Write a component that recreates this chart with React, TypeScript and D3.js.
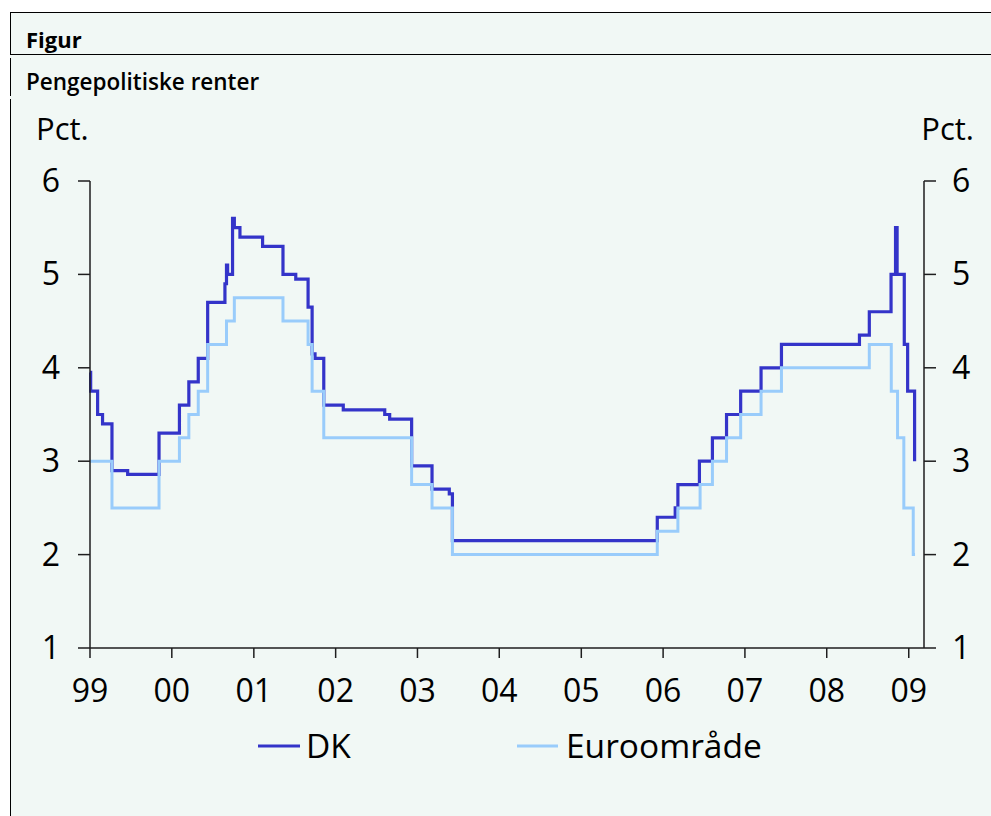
import React from "react";
import * as d3 from "d3";

const dkDates = [
  "1999-01-01", "1999-01-04", "1999-02-04", "1999-02-26", "1999-04-09", "1999-06-18",
  "1999-11-05", "2000-02-04", "2000-03-17", "2000-04-28", "2000-06-09", "2000-08-25",
  "2000-09-01", "2000-09-06", "2000-09-28", "2000-10-06", "2000-10-31", "2001-02-09",
  "2001-05-11", "2001-07-07", "2001-08-31", "2001-09-18", "2001-10-01", "2001-11-09",
  "2002-02-04", "2002-08-08", "2002-08-30", "2002-12-06", "2003-03-07", "2003-05-23",
  "2003-06-06", "2005-12-06", "2006-02-24", "2006-03-08", "2006-06-12", "2006-08-09",
  "2006-10-11", "2006-12-13", "2007-03-14", "2007-06-13", "2008-05-26", "2008-07-09",
  "2008-10-14", "2008-11-03", "2008-11-10", "2008-12-12", "2008-12-27", "2009-01-27",
];
const dkValues = [
  3.95, 3.75, 3.5, 3.4, 2.9, 2.86,
  3.3, 3.6, 3.85, 4.1, 4.7, 4.9,
  5.1, 5.0, 5.6, 5.5, 5.4, 5.3,
  5.0, 4.95, 4.65, 4.15, 4.1, 3.6,
  3.55, 3.5, 3.45, 2.95, 2.7, 2.65,
  2.15, 2.4, 2.5, 2.75, 3.0, 3.25,
  3.5, 3.75, 4.0, 4.25, 4.35, 4.6,
  5.0, 5.5, 5.0, 4.25, 3.75, 3.0,
];

const euroDates = [
  "1999-01-01", "1999-04-09", "1999-11-05", "2000-02-04", "2000-03-17", "2000-04-28",
  "2000-06-09", "2000-09-01", "2000-10-06", "2001-05-11", "2001-08-31", "2001-09-18",
  "2001-11-09", "2002-12-06", "2003-03-07", "2003-06-06", "2005-12-06", "2006-03-08",
  "2006-06-15", "2006-08-09", "2006-10-11", "2006-12-13", "2007-03-14", "2007-06-13",
  "2008-07-09", "2008-10-15", "2008-11-12", "2008-12-10", "2009-01-21", "2009-01-29",
];
const euroValues = [
  3.0, 2.5, 3.0, 3.25, 3.5, 3.75,
  4.25, 4.5, 4.75, 4.5, 4.25, 3.75,
  3.25, 2.75, 2.5, 2.0, 2.25, 2.5,
  2.75, 3.0, 3.25, 3.5, 3.75, 4.0,
  4.25, 3.75, 3.25, 2.5, 2.0, 2.0,
];

const yTicks = [1, 2, 3, 4, 5, 6];
const xTickYears = [1999, 2000, 2001, 2002, 2003, 2004, 2005, 2006, 2007, 2008, 2009];
const xTickLabels = ["99", "00", "01", "02", "03", "04", "05", "06", "07", "08", "09"];
const seriesNames = ["DK", "Euroområde"];

const W = 991;
const H = 816;
const FONT = "'Open Sans', 'Noto Sans', sans-serif";
const DK_COLOR = "#3434c9";
const EURO_COLOR = "#99ccfb";
const AXIS = "#1e1e1e";

export default function App() {
  const parse = d3.utcParse("%Y-%m-%d");
  const x = d3
    .scaleUtc()
    .domain([parse("1999-01-01")!, parse("2009-03-10")!])
    .range([90, 924]);
  const y = d3.scaleLinear().domain([1, 6]).range([648, 181]);

  const dk = dkDates.map((d, i) => ({ date: parse(d)!, v: dkValues[i] }));
  const euro = euroDates.map((d, i) => ({ date: parse(d)!, v: euroValues[i] }));

  const line = d3
    .line<{ date: Date; v: number }>()
    .x((d) => x(d.date))
    .y((d) => y(d.v))
    .curve(d3.curveStepAfter);

  const [x0, x1] = x.range();
  const [yb, yt] = y.range();

  return (
    <svg
      width={W}
      height={H}
      style={{ position: "absolute", left: 0, top: 0, display: "block" }}
      fontFamily={FONT}
    >
      <rect x={0} y={0} width={W} height={H} fill="#ffffff" />
      <rect x={10} y={12} width={W - 10} height={H - 12} fill="#f1f8f5" />
      {/* frame */}
      <line x1={10} x2={W} y1={12.5} y2={12.5} stroke="#000" strokeWidth={1} />
      <line x1={10} x2={W} y1={54.5} y2={54.5} stroke="#000" strokeWidth={1} />
      <line x1={10.5} x2={10.5} y1={12} y2={54} stroke="#000" strokeWidth={1} />
      <line x1={10.5} x2={10.5} y1={58} y2={96} stroke="#000" strokeWidth={1} />
      <line x1={10.5} x2={10.5} y1={99} y2={H} stroke="#000" strokeWidth={1} />

      <text x={26} y={48} fontSize={22} fontWeight={700} fill="#000">
        Figur
      </text>
      <text x={26} y={90} fontSize={22.5} fontWeight={600} fill="#000">
        Pengepolitiske renter
      </text>

      {/* unit labels */}
      <text x={36} y={140} fontSize={31} fill="#000">
        Pct.
      </text>
      <text x={974} y={140} fontSize={31} fill="#000" textAnchor="end">
        Pct.
      </text>

      {/* series */}
      <path d={line(dk) || ""} fill="none" stroke={DK_COLOR} strokeWidth={3.2} strokeLinejoin="miter" />
      <path d={line(euro) || ""} fill="none" stroke={EURO_COLOR} strokeWidth={3} strokeLinejoin="miter" />

      {/* axes */}
      <line x1={x0} x2={x0} y1={yt} y2={yb} stroke={AXIS} strokeWidth={1.5} />
      <line x1={x1} x2={x1} y1={yt} y2={yb} stroke={AXIS} strokeWidth={1.5} />
      <line x1={x0} x2={x1} y1={yb} y2={yb} stroke={AXIS} strokeWidth={1.5} />

      {yTicks.map((t) => (
        <g key={"y" + t}>
          <line x1={x0 - 12} x2={x0} y1={y(t)} y2={y(t)} stroke={AXIS} strokeWidth={1.5} />
          <line x1={x1} x2={x1 + 12} y1={y(t)} y2={y(t)} stroke={AXIS} strokeWidth={1.5} />
          <text x={60} y={y(t) + 11} fontSize={32} textAnchor="end" fill="#000">
            {t}
          </text>
          <text x={952} y={y(t) + 11} fontSize={32} textAnchor="start" fill="#000">
            {t}
          </text>
        </g>
      ))}

      {xTickYears.map((yr, i) => {
        const xx = x(new Date(Date.UTC(yr, 0, 1)));
        return (
          <g key={"x" + yr}>
            <line x1={xx} x2={xx} y1={yb} y2={yb + 10} stroke={AXIS} strokeWidth={1.5} />
            <text x={xx} y={702} fontSize={32} textAnchor="middle" fill="#000">
              {xTickLabels[i]}
            </text>
          </g>
        );
      })}

      {/* legend */}
      <line x1={258} x2={300} y1={746} y2={746} stroke={DK_COLOR} strokeWidth={3.2} />
      <text x={306} y={758} fontSize={33.5} fill="#000">
        {seriesNames[0]}
      </text>
      <line x1={517} x2={558} y1={746} y2={746} stroke={EURO_COLOR} strokeWidth={3} />
      <text x={566} y={758} fontSize={33.5} fill="#000">
        {seriesNames[1]}
      </text>
    </svg>
  );
}
